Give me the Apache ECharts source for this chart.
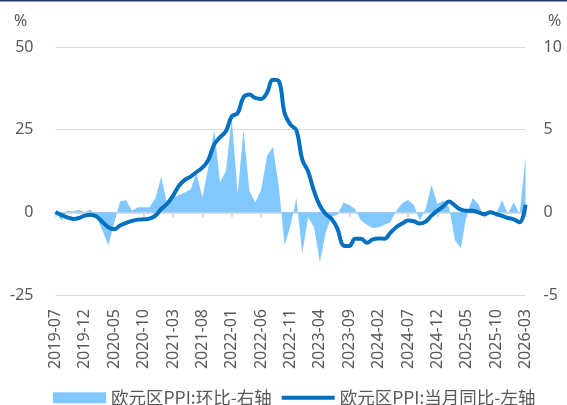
<!DOCTYPE html>
<html>
<head>
<meta charset="utf-8">
<script src="https://cdn.jsdelivr.net/npm/echarts@6/dist/echarts.min.js"></script>
<style>html,body{margin:0;padding:0;background:#fff;}#c{width:567px;height:405px;}</style>
</head>
<body>
<div id="c"></div>
<script>
var categories = [
'2019-07','2019-08','2019-09','2019-10','2019-11','2019-12',
'2020-01','2020-02','2020-03','2020-04','2020-05','2020-06','2020-07','2020-08','2020-09','2020-10','2020-11','2020-12',
'2021-01','2021-02','2021-03','2021-04','2021-05','2021-06','2021-07','2021-08','2021-09','2021-10','2021-11','2021-12',
'2022-01','2022-02','2022-03','2022-04','2022-05','2022-06','2022-07','2022-08','2022-09','2022-10','2022-11','2022-12',
'2023-01','2023-02','2023-03','2023-04','2023-05','2023-06','2023-07','2023-08','2023-09','2023-10','2023-11','2023-12',
'2024-01','2024-02','2024-03','2024-04','2024-05','2024-06','2024-07','2024-08','2024-09','2024-10','2024-11','2024-12',
'2025-01','2025-02','2025-03','2025-04','2025-05','2025-06','2025-07','2025-08','2025-09','2025-10','2025-11','2025-12',
'2026-01','2026-02','2026-03'
];
// 欧元区PPI:环比 (right axis)
var momValues = [
0.0, -0.5, 0.1, 0.05, 0.15, 0.0, 0.15, -0.3, -1.1, -2.0,
-0.6, 0.65, 0.75, 0.1, 0.3, 0.3, 0.3, 0.85, 2.15, 0.5,
0.9, 1.05, 1.2, 1.4, 2.35, 0.9, 2.7, 5.0, 1.8, 2.5,
5.7, 1.1, 5.0, 1.3, 0.6, 1.35, 3.4, 3.95, 1.6, -2.0,
-0.8, 0.85, -2.5, -0.3, -0.9, -3.0, -1.2, -0.25, -0.15, 0.6,
0.45, 0.2, -0.5, -0.75, -0.95, -0.9, -0.75, -0.6, 0.1, 0.55,
0.75, 0.45, -0.5, 0.2, 1.65, 0.5, 0.7, 0.3, -1.7, -2.15,
-0.1, 0.85, 0.5, -0.35, 0.1, -0.1, 0.75, -0.1, 0.6, -0.1,
3.3
];
// 欧元区PPI:当月同比 (left axis)
var yoyValues = [
0.1, -0.8, -1.5, -2.0, -1.7, -1.0, -0.7, -1.3, -2.9, -4.5,
-5.1, -4.0, -3.2, -2.6, -2.2, -2.1, -1.9, -1.0, 1.0, 2.6,
5.0, 8.0, 9.8, 10.8, 12.2, 13.5, 15.8, 20.5, 22.7, 24.5,
29.0, 30.0, 34.8, 35.6, 34.6, 34.3, 36.2, 40.1, 39.7, 30.0,
26.5, 24.8, 16.0, 12.3, 6.5, 2.0, -0.5, -2.0, -5.0, -10.0,
-10.2, -8.0, -8.0, -9.2, -8.2, -7.9, -8.0, -6.2, -4.5, -3.4,
-2.5, -2.7, -3.4, -2.8, -1.0, 0.5, 1.8, 3.3, 2.0, 0.8,
0.5, 0.5, 0.0, -0.6, 0.0, -0.5, -1.1, -1.7, -2.1, -3.0,
2.3
];
var leftTicks = {min: -25, max: 50, interval: 25};
var rightTicks = {min: -5, max: 10, interval: 5};
var seriesNames = ['欧元区PPI:环比-右轴', '欧元区PPI:当月同比-左轴'];

var txt = '#595959';
var fontLat = 'Noto Sans';
var chart = echarts.init(document.getElementById('c'), null, {renderer: 'canvas'});
chart.setOption({
  animation: false,
  backgroundColor: '#fff',
  grid: {left: 55.5, right: 41.5, top: 47, bottom: 110, containLabel: false},
  graphic: [
    {type: 'rect', left: 0, top: 0, shape: {width: 567, height: 1.5}, style: {fill: '#1F3864'}},
    {type: 'text', left: 14, top: 13, style: {text: '%', fontSize: 16, fontFamily: fontLat, fill: txt}},
    {type: 'text', left: 548, top: 13, style: {text: '%', fontSize: 16, fontFamily: fontLat, fill: txt}}
  ],
  legend: {
    left: 48, top: 384,
    itemWidth: 53, itemHeight: 11, itemGap: 10,
    symbolKeepAspect: true,
    textStyle: {fontSize: 17.5, color: txt, fontFamily: 'Noto Sans CJK SC'},
    data: [
      {name: seriesNames[0], icon: 'rect'},
      {name: seriesNames[1], icon: 'path://M0,0 L55,0 L55,4 L0,4 Z'}
    ]
  },
  xAxis: [
    {
      type: 'category', data: categories, boundaryGap: false, position: 'bottom',
      axisLine: {show: false, onZero: false}, axisTick: {show: false},
      axisLabel: {interval: 4, rotate: 90, margin: 14, fontSize: 16, color: txt, fontFamily: fontLat},
      splitLine: {show: false}
    },
    {
      type: 'category', data: categories, boundaryGap: false, position: 'bottom',
      axisLine: {show: true, onZero: true, onZeroAxisIndex: 0, lineStyle: {color: '#D9D9D9', width: 2}},
      axisTick: {show: true, interval: 4, length: 5, lineStyle: {color: '#D9D9D9', width: 2}},
      axisLabel: {show: false}, splitLine: {show: false}
    }
  ],
  yAxis: [
    {
      type: 'value', min: leftTicks.min, max: leftTicks.max, interval: leftTicks.interval,
      axisLine: {show: false}, axisTick: {show: false},
      axisLabel: {margin: 22, fontSize: 16, color: txt, fontFamily: fontLat},
      splitLine: {show: true, lineStyle: {color: '#D9D9D9', width: 1}}
    },
    {
      type: 'value', min: rightTicks.min, max: rightTicks.max, interval: rightTicks.interval,
      axisLine: {show: false}, axisTick: {show: false},
      axisLabel: {margin: 18, fontSize: 16, color: txt, fontFamily: fontLat},
      splitLine: {show: false}
    }
  ],
  series: [
    {
      name: seriesNames[0], type: 'line', xAxisIndex: 0, yAxisIndex: 1, data: momValues,
      symbol: 'none', showSymbol: false, smooth: false,
      lineStyle: {width: 0, color: '#80C8FF'}, itemStyle: {color: '#80C8FF'},
      areaStyle: {color: '#80C8FF', opacity: 1, origin: 0}, z: 1
    },
    {
      name: seriesNames[1], type: 'line', xAxisIndex: 0, yAxisIndex: 0, data: yoyValues,
      symbol: 'none', showSymbol: false, smooth: 0.4,
      lineStyle: {width: 4, color: '#0070C0'}, itemStyle: {color: '#0070C0'}, z: 3
    }
  ]
});
</script>
</body>
</html>
